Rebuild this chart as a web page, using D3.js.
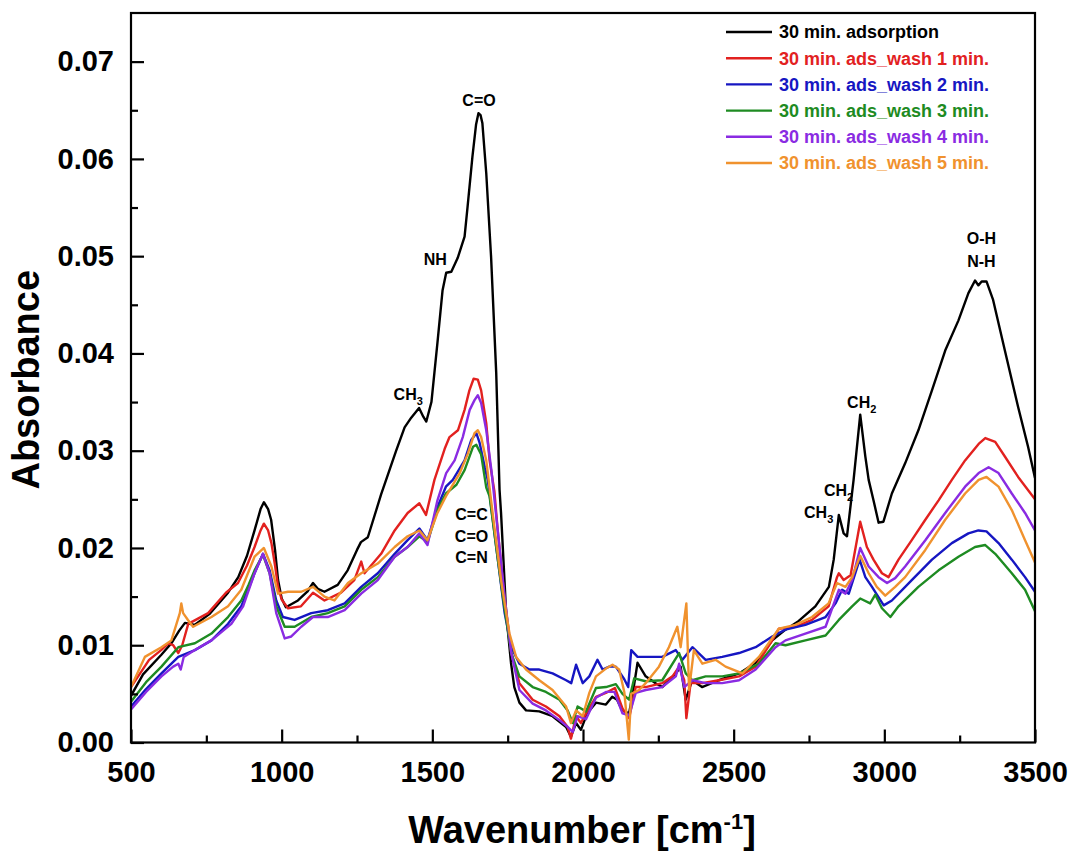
<!DOCTYPE html>
<html>
<head>
<meta charset="utf-8">
<script src="https://cdn.jsdelivr.net/npm/d3@7"></script>
<style>
  html, body { margin: 0; padding: 0; background: #fff; }
  svg { display: block; font-family: "Liberation Sans", Arial, sans-serif; }
</style>
</head>
<body>
<svg id="chartArea" width="1071" height="853"></svg>
<script>

/* series data : [wavenumber, absorbance] */
const adsorption = [
  [500,0.0048],[540,0.0070],[600,0.0090],[634,0.0102],[660,0.0115],[679,0.0123],[712,0.0121],[760,0.0132],
  [822,0.0154],[856,0.0170],[885,0.0192],[910,0.0218],[930,0.0240],[941,0.0247],[955,0.0240],[965,0.0229],
  [978,0.0198],[988,0.0167],[1000,0.0148],[1014,0.0139],[1054,0.0146],[1085,0.0155],[1104,0.0164],[1120,0.0158],
  [1142,0.0155],[1186,0.0162],[1219,0.0177],[1250,0.0198],[1263,0.0206],[1286,0.0211],[1330,0.0255],[1360,0.0282],
  [1380,0.0300],[1408,0.0324],[1430,0.0334],[1456,0.0344],[1470,0.0335],[1480,0.0330],[1497,0.0350],[1517,0.0411],
  [1534,0.0465],[1546,0.0483],[1563,0.0484],[1584,0.0498],[1607,0.0520],[1617,0.0551],[1633,0.0602],[1645,0.0635],
  [1653,0.0647],[1660,0.0645],[1666,0.0637],[1679,0.0585],[1695,0.0499],[1712,0.0380],[1723,0.0260],[1728,0.0236],
  [1745,0.0133],[1761,0.0082],[1772,0.0057],[1789,0.0041],[1811,0.0033],[1855,0.0032],[1899,0.0027],[1944,0.0016],
  [1960,0.0006],[1977,0.0020],[1993,0.0013],[2014,0.0030],[2043,0.0041],[2076,0.0039],[2097,0.0047],[2113,0.0044],
  [2130,0.0033],[2153,0.0030],[2165,0.0050],[2181,0.0082],[2208,0.0068],[2241,0.0061],[2263,0.0057],[2308,0.0071],
  [2324,0.0078],[2341,0.0044],[2362,0.0064],[2395,0.0057],[2451,0.0064],[2518,0.0071],[2573,0.0082],[2628,0.0105],
  [2672,0.0116],[2716,0.0125],[2771,0.0140],[2816,0.0160],[2832,0.0188],[2849,0.0234],[2865,0.0215],[2876,0.0212],
  [2898,0.0270],[2920,0.0337],[2937,0.0294],[2948,0.0270],[2964,0.0249],[2981,0.0226],[2997,0.0227],[3025,0.0256],
  [3069,0.0287],[3113,0.0321],[3158,0.0362],[3202,0.0403],[3246,0.0434],[3279,0.0462],[3301,0.0475],[3312,0.0470],
  [3323,0.0474],[3339,0.0474],[3361,0.0455],[3400,0.0403],[3444,0.0345],[3477,0.0304],[3500,0.0272]
];

const wash1 = [
  [500,0.0057],[560,0.0085],[600,0.0095],[624,0.0102],[640,0.0100],[657,0.0092],[670,0.0100],[690,0.0122],
  [756,0.0133],[815,0.0154],[855,0.0164],[885,0.0182],[910,0.0201],[930,0.0218],[941,0.0225],[955,0.0218],
  [966,0.0205],[978,0.0182],[988,0.0160],[1000,0.0147],[1021,0.0138],[1064,0.0140],[1104,0.0154],[1142,0.0146],
  [1197,0.0154],[1241,0.0167],[1264,0.0186],[1275,0.0174],[1330,0.0194],[1375,0.0218],[1418,0.0236],[1457,0.0246],
  [1479,0.0234],[1507,0.0270],[1541,0.0302],[1557,0.0314],[1585,0.0321],[1607,0.0342],[1623,0.0362],[1637,0.0374],
  [1651,0.0373],[1662,0.0362],[1679,0.0328],[1690,0.0290],[1706,0.0258],[1717,0.0218],[1739,0.0150],[1762,0.0092],
  [1789,0.0061],[1833,0.0044],[1877,0.0037],[1922,0.0027],[1949,0.0016],[1960,0.0004],[1977,0.0027],[1993,0.0020],
  [2010,0.0030],[2043,0.0047],[2076,0.0051],[2106,0.0056],[2131,0.0035],[2153,0.0025],[2175,0.0057],[2208,0.0057],
  [2263,0.0061],[2297,0.0068],[2319,0.0078],[2336,0.0064],[2343,0.0025],[2357,0.0061],[2396,0.0061],[2451,0.0064],
  [2518,0.0068],[2573,0.0078],[2628,0.0105],[2650,0.0117],[2705,0.0119],[2760,0.0126],[2815,0.0140],[2843,0.0170],
  [2849,0.0174],[2865,0.0167],[2888,0.0172],[2909,0.0208],[2920,0.0227],[2942,0.0201],[2964,0.0188],[2992,0.0174],
  [3014,0.0170],[3047,0.0188],[3091,0.0208],[3136,0.0229],[3180,0.0249],[3224,0.0270],[3268,0.0290],[3313,0.0307],
  [3335,0.0313],[3368,0.0309],[3400,0.0294],[3444,0.0273],[3500,0.0250]
];

const wash2 = [
  [500,0.0037],[550,0.0055],[601,0.0071],[657,0.0088],[712,0.0095],[767,0.0105],[822,0.0122],[866,0.0140],
  [890,0.0158],[910,0.0174],[938,0.0194],[960,0.0177],[982,0.0146],[1004,0.0129],[1043,0.0126],[1098,0.0133],
  [1153,0.0136],[1209,0.0143],[1264,0.0160],[1319,0.0174],[1375,0.0194],[1418,0.0208],[1457,0.0220],[1484,0.0208],
  [1517,0.0242],[1545,0.0263],[1568,0.0270],[1607,0.0290],[1629,0.0311],[1646,0.0318],[1657,0.0308],[1674,0.0283],
  [1684,0.0270],[1712,0.0201],[1740,0.0133],[1762,0.0098],[1789,0.0081],[1822,0.0075],[1855,0.0075],[1899,0.0071],
  [1944,0.0064],[1961,0.0061],[1977,0.0080],[1999,0.0061],[2021,0.0068],[2048,0.0085],[2065,0.0075],[2087,0.0078],
  [2109,0.0078],[2137,0.0065],[2150,0.0057],[2160,0.0095],[2181,0.0088],[2230,0.0088],[2263,0.0088],[2308,0.0095],
  [2330,0.0085],[2363,0.0098],[2407,0.0085],[2462,0.0088],[2518,0.0092],[2573,0.0098],[2628,0.0109],[2672,0.0116],
  [2738,0.0121],[2805,0.0129],[2838,0.0143],[2860,0.0157],[2882,0.0153],[2918,0.0188],[2937,0.0170],[2959,0.0160],
  [2998,0.0141],[3025,0.0146],[3091,0.0167],[3158,0.0188],[3224,0.0205],[3279,0.0215],[3312,0.0218],[3339,0.0217],
  [3379,0.0205],[3423,0.0188],[3467,0.0170],[3500,0.0155]
];

const wash3 = [
  [500,0.0042],[550,0.0062],[601,0.0078],[657,0.0098],[712,0.0102],[767,0.0112],[822,0.0129],[866,0.0146],
  [890,0.0162],[910,0.0177],[938,0.0193],[960,0.0174],[982,0.0140],[1010,0.0119],[1043,0.0119],[1098,0.0129],
  [1153,0.0133],[1209,0.0140],[1264,0.0157],[1319,0.0170],[1375,0.0191],[1418,0.0201],[1457,0.0212],[1484,0.0206],
  [1517,0.0239],[1545,0.0256],[1580,0.0265],[1607,0.0280],[1635,0.0304],[1646,0.0306],[1662,0.0296],[1679,0.0262],
  [1690,0.0253],[1712,0.0201],[1734,0.0150],[1762,0.0092],[1789,0.0068],[1833,0.0057],[1877,0.0052],[1922,0.0044],
  [1949,0.0033],[1966,0.0020],[1982,0.0037],[2010,0.0032],[2043,0.0056],[2076,0.0057],[2109,0.0060],[2131,0.0050],
  [2153,0.0044],[2170,0.0066],[2208,0.0063],[2263,0.0064],[2319,0.0092],[2341,0.0071],[2363,0.0064],[2407,0.0068],
  [2462,0.0068],[2518,0.0071],[2584,0.0081],[2639,0.0102],[2672,0.0100],[2738,0.0105],[2805,0.0110],[2849,0.0126],
  [2893,0.0140],[2920,0.0148],[2953,0.0143],[2970,0.0152],[2992,0.0138],[3020,0.0129],[3047,0.0140],[3113,0.0160],
  [3180,0.0177],[3246,0.0191],[3301,0.0201],[3335,0.0203],[3368,0.0194],[3423,0.0174],[3467,0.0157],[3500,0.0135]
];

const wash4 = [
  [500,0.0034],[550,0.0052],[601,0.0068],[640,0.0078],[657,0.0081],[665,0.0075],[675,0.0088],[712,0.0095],
  [767,0.0105],[833,0.0122],[872,0.0140],[910,0.0174],[938,0.0194],[960,0.0174],[982,0.0133],[1010,0.0107],
  [1032,0.0109],[1065,0.0119],[1104,0.0129],[1153,0.0129],[1209,0.0136],[1264,0.0153],[1319,0.0167],[1375,0.0191],
  [1418,0.0201],[1457,0.0215],[1484,0.0203],[1517,0.0249],[1546,0.0277],[1574,0.0290],[1601,0.0314],[1624,0.0342],
  [1640,0.0352],[1651,0.0357],[1662,0.0349],[1679,0.0321],[1696,0.0280],[1717,0.0218],[1740,0.0150],[1762,0.0092],
  [1789,0.0054],[1833,0.0040],[1877,0.0033],[1922,0.0023],[1949,0.0016],[1966,0.0011],[1982,0.0027],[2010,0.0024],
  [2043,0.0046],[2076,0.0052],[2104,0.0052],[2131,0.0030],[2153,0.0028],[2175,0.0051],[2208,0.0054],[2263,0.0057],
  [2308,0.0068],[2319,0.0081],[2336,0.0057],[2363,0.0064],[2407,0.0061],[2462,0.0061],[2518,0.0064],[2573,0.0075],
  [2639,0.0098],[2672,0.0105],[2738,0.0112],[2805,0.0119],[2849,0.0157],[2871,0.0153],[2893,0.0167],[2920,0.0200],
  [2948,0.0181],[2981,0.0170],[3009,0.0164],[3036,0.0169],[3069,0.0181],[3136,0.0208],[3202,0.0236],[3268,0.0263],
  [3313,0.0277],[3346,0.0283],[3379,0.0277],[3423,0.0256],[3467,0.0236],[3500,0.0218]
];

const wash5 = [
  [500,0.0057],[546,0.0088],[601,0.0098],[634,0.0105],[662,0.0133],[667,0.0143],[673,0.0133],[689,0.0126],
  [706,0.0119],[767,0.0129],[822,0.0140],[866,0.0157],[910,0.0191],[941,0.0200],[966,0.0181],[988,0.0153],
  [1021,0.0155],[1065,0.0155],[1104,0.0160],[1142,0.0150],[1175,0.0146],[1220,0.0164],[1264,0.0174],[1319,0.0184],
  [1375,0.0201],[1418,0.0212],[1457,0.0218],[1484,0.0208],[1517,0.0236],[1545,0.0253],[1591,0.0277],[1618,0.0297],
  [1640,0.0318],[1651,0.0321],[1662,0.0314],[1679,0.0290],[1700,0.0236],[1728,0.0167],[1756,0.0112],[1778,0.0088],
  [1811,0.0075],[1855,0.0064],[1899,0.0054],[1944,0.0037],[1960,0.0020],[1977,0.0033],[1999,0.0027],[2021,0.0051],
  [2043,0.0068],[2076,0.0076],[2098,0.0080],[2120,0.0075],[2137,0.0052],[2152,0.0003],[2160,0.0050],[2186,0.0054],
  [2208,0.0061],[2252,0.0078],[2285,0.0098],[2313,0.0119],[2324,0.0098],[2343,0.0143],[2352,0.0054],[2368,0.0095],
  [2396,0.0081],[2440,0.0085],[2473,0.0078],[2529,0.0071],[2584,0.0088],[2650,0.0117],[2705,0.0121],[2760,0.0129],
  [2815,0.0143],[2843,0.0164],[2871,0.0160],[2893,0.0170],[2920,0.0192],[2948,0.0174],[2975,0.0160],[3003,0.0151],
  [3036,0.0160],[3069,0.0170],[3136,0.0198],[3202,0.0229],[3268,0.0256],[3313,0.0270],[3339,0.0273],[3379,0.0263],
  [3423,0.0239],[3467,0.0208],[3500,0.0185]
];

/* legend labels and colours, same order as the series */
const seriesNames = [
  "30 min. adsorption",
  "30 min. ads_wash 1 min.",
  "30 min. ads_wash 2 min.",
  "30 min. ads_wash 3 min.",
  "30 min. ads_wash 4 min.",
  "30 min. ads_wash 5 min."
];
const seriesColors = ["#000000", "#e2211f", "#1616c2", "#1e8b22", "#8a2be2", "#f0922e"];
const seriesData = [adsorption, wash1, wash2, wash3, wash4, wash5];

/* tick values */
const xTicks = [500, 1000, 1500, 2000, 2500, 3000, 3500];
const xMinorTicks = [750, 1250, 1750, 2250, 2750, 3250];
const yTicks = [0, 0.01, 0.02, 0.03, 0.04, 0.05, 0.06, 0.07];
const yMinorTicks = [0.005, 0.015, 0.025, 0.035, 0.045, 0.055, 0.065];

/* band labels: [wavenumber, absorbance, main text, subscript] */
const bandLabels = [
  [1655, 0.0660, "C=O", ""],
  [1510, 0.0497, "NH", ""],
  [1420, 0.0358, "CH", "3"],
  [1630, 0.0234, "C=C", ""],
  [1630, 0.0212, "C=O", ""],
  [1630, 0.0190, "C=N", ""],
  [2925, 0.0350, "CH", "2"],
  [2848, 0.0259, "CH", "2"],
  [2782, 0.0237, "CH", "3"],
  [3322, 0.0518, "O-H", ""],
  [3322, 0.0495, "N-H", ""]
];


const FONT = "'Liberation Sans', Arial, sans-serif";
const svg = d3.select("#chartArea");

// plot area
const plot = {left: 131, right: 1035, top: 13, bottom: 742.5};

// scales
const x = d3.scaleLinear().domain([500, 3500]).range([plot.left, plot.right]);
const y = d3.scaleLinear().domain([0, 0.075]).range([plot.bottom, plot.top]);

// clip so nothing leaves the frame
svg.append("clipPath").attr("id", "plotClip")
  .append("rect")
  .attr("x", plot.left).attr("y", plot.top)
  .attr("width", plot.right - plot.left)
  .attr("height", plot.bottom - plot.top);

// spectra
const line = d3.line()
  .x(d => x(d[0]))
  .y(d => y(d[1]));

const lines = svg.append("g").attr("clip-path", "url(#plotClip)");
seriesData.forEach((data, i) => {
  lines.append("path")
    .datum(data)
    .attr("d", line)
    .attr("fill", "none")
    .attr("stroke", seriesColors[i])
    .attr("stroke-width", 2.4)
    .attr("stroke-linejoin", "round");
});

// frame
svg.append("rect")
  .attr("x", plot.left).attr("y", plot.top)
  .attr("width", plot.right - plot.left)
  .attr("height", plot.bottom - plot.top)
  .attr("fill", "none")
  .attr("stroke", "#000")
  .attr("stroke-width", 2.2);

// x axis (ticks pointing inward)
const xAxis = svg.append("g")
  .attr("transform", `translate(0,${plot.bottom})`)
  .call(d3.axisBottom(x).tickValues(xTicks).tickSize(-13).tickPadding(27)
    .tickFormat(d3.format("d")));
svg.append("g")
  .attr("transform", `translate(0,${plot.bottom})`)
  .call(d3.axisBottom(x).tickValues(xMinorTicks).tickSize(-7).tickFormat(""));

// y axis
const yAxis = svg.append("g")
  .attr("transform", `translate(${plot.left},0)`)
  .call(d3.axisLeft(y).tickValues(yTicks).tickSize(-13).tickPadding(17)
    .tickFormat(d3.format(".2f")));
svg.append("g")
  .attr("transform", `translate(${plot.left},0)`)
  .call(d3.axisLeft(y).tickValues(yMinorTicks).tickSize(-7).tickFormat(""));

svg.selectAll(".domain").remove();
svg.selectAll(".tick line").attr("stroke", "#000").attr("stroke-width", 2.2);
svg.selectAll(".tick text")
  .attr("fill", "#000")
  .style("font-family", FONT)
  .style("font-size", "29px")
  .style("font-weight", "bold");
xAxis.selectAll(".tick text").attr("dy", 0).attr("y", 39.5);

// axis titles
const xTitle = svg.append("text")
  .attr("x", 582).attr("y", 843)
  .attr("text-anchor", "middle")
  .style("font-family", FONT).style("font-size", "38px").style("font-weight", "bold");
xTitle.append("tspan").text("Wavenumber [cm");
xTitle.append("tspan").text("-1").attr("dy", -14).style("font-size", "22px");
xTitle.append("tspan").text("]").attr("dy", 14);

svg.append("text")
  .attr("transform", `translate(39,${(plot.top + plot.bottom) / 2 + 2}) rotate(-90)`)
  .attr("text-anchor", "middle")
  .style("font-family", FONT).style("font-size", "38px").style("font-weight", "bold")
  .text("Absorbance");

// band labels
bandLabels.forEach(b => {
  const t = svg.append("text")
    .attr("x", x(b[0])).attr("y", y(b[1]))
    .attr("dy", "0.35em")
    .attr("text-anchor", "middle")
    .style("font-family", FONT).style("font-size", "16px").style("font-weight", "bold");
  t.append("tspan").text(b[2]);
  if (b[3]) {
    t.append("tspan").text(b[3]).attr("dy", 5).style("font-size", "11px");
  }
});

// legend
const legend = svg.append("g").attr("transform", "translate(726,32)");
seriesNames.forEach((name, i) => {
  const row = legend.append("g").attr("transform", `translate(0,${i * 26.2})`);
  row.append("line")
    .attr("x1", 0).attr("x2", 46)
    .attr("stroke", seriesColors[i])
    .attr("stroke-width", 2.4);
  row.append("text")
    .attr("x", 53).attr("dy", "0.36em")
    .attr("fill", seriesColors[i])
    .style("font-family", FONT).style("font-size", "18px").style("font-weight", "bold")
    .text(name);
});

</script>
</body>
</html>
